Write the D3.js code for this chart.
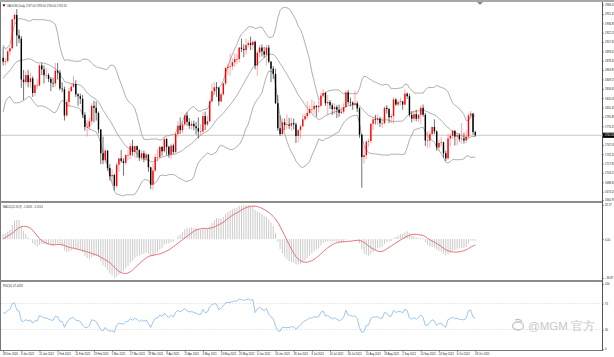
<!DOCTYPE html>
<html>
<head>
<meta charset="utf-8">
<script src="https://cdn.jsdelivr.net/npm/d3@7"></script>
<style>
  html, body { margin: 0; padding: 0; background: #fff; }
  svg { display: block; }
  text { font-family: "Liberation Sans", Arial, sans-serif; }
</style>
</head>
<body>
<svg id="chart" width="614" height="357"></svg>
<script>
// closes before the first visible bar (Oct - Dec 2020), only used to warm up the indicators
const warmupCloses = [1906, 1899, 1913, 1877, 1887, 1893, 1930, 1922, 1891, 1902, 1908, 1899, 1904, 1907, 1924,
  1904, 1902, 1902, 1908, 1878, 1868, 1879, 1895, 1908, 1903, 1949, 1951, 1862, 1877, 1866, 1873, 1889, 1888,
  1879, 1871, 1866, 1871, 1837, 1807, 1811, 1811, 1788, 1776, 1815, 1830, 1841, 1839, 1863, 1871, 1838, 1836,
  1839, 1827, 1854, 1864, 1886, 1881, 1872, 1859, 1871, 1876];

// daily bars [open, high, low, close]
const dec2020 = [[1883,1900,1871,1877],[1877,1883,1871,1878],[1878,1896,1875,1893],[1893,1900,1887,1898]];
const jan2021 = [[1898,1944,1896,1943],[1943,1952,1936,1950],[1950,1959,1901,1918],[1918,1927,1906,1913],
  [1913,1917,1836,1849],[1849,1864,1817,1845],[1845,1862,1840,1856],[1856,1864,1837,1845],[1845,1860,1836,1851],
  [1851,1854,1822,1828],[1828,1843,1823,1840],[1840,1850,1834,1840],[1840,1873,1838,1871],[1871,1875,1856,1865],
  [1865,1871,1843,1856],[1856,1867,1850,1856],[1856,1859,1845,1850],[1850,1853,1831,1844],[1844,1852,1837,1843],
  [1843,1875,1838,1863]];
const feb2021 = [[1863,1875,1849,1860],[1860,1864,1832,1835],[1835,1845,1829,1834],[1834,1838,1785,1793],
  [1793,1818,1791,1814],[1814,1836,1807,1831],[1831,1843,1829,1838],[1838,1855,1836,1842],[1842,1848,1822,1826],
  [1826,1828,1808,1823],[1823,1827,1811,1819],[1819,1825,1789,1794],[1794,1798,1769,1775],[1775,1786,1760,1775],
  [1775,1790,1770,1784],[1784,1812,1778,1808],[1808,1816,1782,1805],[1805,1815,1785,1797],[1797,1799,1765,1771],
  [1771,1772,1717,1734]];
const mar2021 = [[1734,1760,1717,1723],[1723,1741,1718,1738],[1738,1739,1707,1711],[1711,1717,1691,1698],
  [1698,1709,1687,1700],[1700,1702,1676,1683],[1683,1719,1680,1716],[1716,1726,1705,1726],[1726,1739,1719,1722],
  [1722,1726,1699,1719],[1719,1733,1716,1731],[1731,1740,1723,1731],[1731,1750,1725,1745],[1745,1755,1730,1736],
  [1736,1746,1727,1745],[1745,1746,1727,1739],[1739,1740,1722,1727],[1727,1739,1723,1734],[1734,1738,1720,1726],
  [1726,1735,1722,1732],[1732,1732,1705,1712],[1712,1713,1678,1685],[1685,1718,1677,1707]];
const apr2021 = [[1707,1733,1705,1728],[1728,1740,1721,1728],[1728,1746,1726,1744],[1744,1745,1730,1737],
  [1737,1759,1735,1756],[1756,1758,1731,1744],[1744,1746,1727,1732],[1732,1749,1725,1746],[1746,1749,1733,1736],
  [1736,1766,1734,1764],[1764,1784,1759,1777],[1777,1790,1764,1770],[1770,1784,1765,1779],[1779,1795,1776,1793],
  [1793,1798,1777,1783],[1783,1789,1772,1777],[1777,1785,1771,1780],[1780,1785,1770,1776],[1776,1783,1763,1773],
  [1773,1790,1757,1768],[1768,1779,1762,1768]];
const may2021 = [[1768,1798,1766,1792],[1792,1799,1770,1779],[1779,1793,1776,1784],[1784,1818,1782,1815],
  [1815,1843,1813,1831],[1831,1845,1825,1837],[1837,1845,1822,1836],[1836,1838,1808,1815],[1815,1829,1813,1826],
  [1826,1845,1824,1843],[1843,1869,1840,1867],[1867,1874,1856,1869],[1869,1890,1855,1870],[1870,1882,1864,1876],
  [1876,1890,1869,1881],[1881,1889,1873,1881],[1881,1900,1876,1899],[1899,1913,1892,1897],[1897,1904,1884,1895],
  [1895,1913,1888,1903],[1903,1910,1899,1906]];
const jun2021 = [[1906,1916,1895,1903],[1903,1910,1896,1908],[1908,1910,1865,1871],[1871,1895,1855,1891],
  [1891,1903,1884,1899],[1899,1904,1885,1893],[1893,1900,1883,1888],[1888,1903,1871,1899],[1899,1903,1875,1877],
  [1877,1878,1845,1866],[1866,1870,1850,1858],[1858,1866,1811,1812],[1812,1825,1769,1773],[1773,1793,1761,1764],
  [1764,1789,1762,1782],[1782,1788,1770,1778],[1778,1795,1772,1779],[1779,1789,1772,1777],[1777,1790,1769,1781],
  [1781,1788,1771,1779],[1779,1782,1750,1761],[1761,1772,1751,1770]];
const jul2021 = [[1770,1779,1757,1776],[1776,1795,1775,1787],[1787,1795,1785,1792],[1792,1815,1788,1797],
  [1797,1809,1794,1803],[1803,1818,1797,1803],[1803,1815,1795,1808],[1808,1809,1791,1806],[1806,1816,1798,1808],
  [1808,1829,1806,1824],[1824,1834,1821,1828],[1828,1830,1808,1812],[1812,1825,1794,1814],[1814,1817,1803,1809],
  [1809,1812,1794,1803],[1803,1812,1795,1806],[1806,1809,1789,1802],[1802,1810,1791,1797],[1797,1807,1795,1799],
  [1799,1812,1795,1806],[1806,1832,1805,1829],[1829,1833,1810,1814]];
const aug2021 = [[1814,1821,1807,1813],[1813,1815,1802,1810],[1810,1832,1808,1812],[1812,1815,1798,1804],
  [1804,1806,1758,1763],[1763,1764,1680,1728],[1728,1745,1718,1731],[1731,1755,1725,1752],[1752,1757,1744,1753],
  [1753,1781,1750,1780],[1780,1789,1770,1787],[1787,1794,1779,1786],[1786,1795,1778,1788],[1788,1791,1775,1781],
  [1781,1790,1773,1781],[1781,1807,1779,1805],[1805,1809,1796,1803],[1803,1805,1781,1790],[1790,1796,1781,1792],
  [1792,1822,1780,1818],[1818,1820,1808,1810],[1810,1817,1807,1814]];
const sep2021 = [[1814,1821,1808,1815],[1815,1816,1802,1810],[1810,1834,1809,1827],[1827,1829,1819,1823],
  [1823,1827,1791,1794],[1794,1800,1782,1788],[1788,1800,1784,1795],[1795,1802,1784,1788],[1788,1795,1783,1794],
  [1794,1809,1780,1805],[1805,1810,1791,1794],[1794,1797,1745,1754],[1754,1769,1742,1754],[1754,1768,1743,1764],
  [1764,1776,1762,1775],[1775,1787,1764,1768],[1768,1770,1738,1743],[1743,1755,1738,1750],[1750,1759,1745,1751],
  [1751,1752,1727,1734],[1734,1738,1722,1726],[1726,1764,1723,1757]];
const oct2021 = [[1757,1765,1745,1761],[1761,1770,1756,1769],[1769,1770,1746,1760],[1760,1765,1746,1762],
  [1762,1765,1752,1756],[1756,1781,1749,1757],[1757,1766,1749,1754],[1754,1770,1750,1760],[1760,1796,1758,1793],
  [1793,1800,1787,1796],[1796,1797,1763,1767],[1767,1769,1760,1762.05]];

// date labels: [bar index, text]
const dateTicks = [[0,"28 Dec 2020"],[8,"8 Jan 2021"],[16,"20 Jan 2021"],[24,"1 Feb 2021"],[32,"11 Feb 2021"],
  [40,"23 Feb 2021"],[48,"5 Mar 2021"],[56,"17 Mar 2021"],[64,"29 Mar 2021"],[72,"9 Apr 2021"],[80,"21 Apr 2021"],
  [88,"3 May 2021"],[96,"13 May 2021"],[104,"25 May 2021"],[112,"4 Jun 2021"],[120,"16 Jun 2021"],[128,"28 Jun 2021"],
  [136,"8 Jul 2021"],[144,"20 Jul 2021"],[152,"30 Jul 2021"],[160,"11 Aug 2021"],[168,"23 Aug 2021"],[176,"2 Sep 2021"],
  [184,"14 Sep 2021"],[192,"24 Sep 2021"],[200,"6 Oct 2021"],[208,"18 Oct 2021"]];

const priceTicks = [1966.05, 1951.45, 1936.85, 1922.25, 1907.65, 1893.05, 1878.45, 1863.85, 1849.25, 1834.65,
  1820.05, 1805.45, 1790.85, 1776.25, 1761.65, 1747.05, 1732.45, 1717.85, 1703.25, 1688.65, 1674.05, 1660.95];
const rsiLevels = [30, 70];

const bars = [].concat(dec2020, jan2021, feb2021, mar2021, apr2021, may2021, jun2021, jul2021, aug2021, sep2021, oct2021);
const N = bars.length;
const closes = bars.map(d => d[3]);
const allCloses = warmupCloses.concat(closes);
const off = warmupCloses.length;

// ---- indicators
function bollinger(src, n, dev) {
    return src.map((v, i) => {
        if (i < n - 1) return null;
        const win = src.slice(i - n + 1, i + 1);
        const m = d3.mean(win);
        const sd = Math.sqrt(d3.mean(win, w => (w - m) * (w - m)));
        return { mid: m, up: m + dev * sd, lo: m - dev * sd };
    });
}
function ema(src, n) {
    const k = 2 / (n + 1), out = [];
    src.forEach((v, i) => out.push(i ? out[i - 1] + k * (v - out[i - 1]) : v));
    return out;
}
function rsiCalc(src, n) {
    const out = src.map(() => null);
    let g = 0, l = 0;
    for (let i = 1; i <= n; i++) { const d = src[i] - src[i - 1]; if (d > 0) g += d; else l -= d; }
    g /= n; l /= n;
    out[n] = 100 - 100 / (1 + g / l);
    for (let i = n + 1; i < src.length; i++) {
        const d = src[i] - src[i - 1];
        g = (g * (n - 1) + Math.max(d, 0)) / n;
        l = (l * (n - 1) + Math.max(-d, 0)) / n;
        out[i] = l === 0 ? 100 : 100 - 100 / (1 + g / l);
    }
    return out;
}

const bb = bollinger(allCloses, 20, 2).slice(off);
const e12 = ema(allCloses, 12), e26 = ema(allCloses, 26);
const macdAll = allCloses.map((v, i) => e12[i] - e26[i]);
const sigAll = macdAll.map((v, i) => i < 8 ? v : d3.mean(macdAll.slice(i - 8, i + 1)));
const macd = macdAll.slice(off), signal = sigAll.slice(off);
const rsi = rsiCalc(allCloses, 14).slice(off);

// ---- layout
const W = 614, H = 357;
const axisX = 602.5;
const mainP = { top: 3, bottom: 201 };
const macdP = { top: 205, bottom: 278 };
const rsiP = { top: 284, bottom: 349 };
const fs = 2.7; // tiny label size, like the shrunk screenshot

const svg = d3.select("#chart");

const x = d3.scaleBand().domain(d3.range(N)).range([2, 2 + N * 2.27]).paddingInner(0.38).paddingOuter(0.2);
const bw = x.bandwidth();
const cx = i => x(i) + bw / 2;

const y = d3.scaleLinear().domain([1659.4, 1968.6]).range([mainP.bottom, mainP.top]);
const macdExt = d3.extent(macd.concat(signal));
const yM = d3.scaleLinear().domain(macdExt).range([macdP.bottom, macdP.top]);
const yR = d3.scaleLinear().domain([0, 100]).range([rsiP.bottom, rsiP.top]);

// frame
svg.append("rect").attr("x", 0).attr("y", 0).attr("width", W).attr("height", 2).attr("fill", "#a8a8a8");
svg.append("line").attr("x1", 0.5).attr("x2", 0.5).attr("y1", 2).attr("y2", 350).attr("stroke", "#777");
[202, 281].forEach(yy => {
    svg.append("rect").attr("x", 0).attr("y", yy - 1).attr("width", axisX).attr("height", 2).attr("fill", "#8c8c8c");
});
svg.append("line").attr("x1", 0).attr("x2", axisX).attr("y1", 350.5).attr("y2", 350.5).attr("stroke", "#777");
svg.append("line").attr("x1", axisX).attr("x2", axisX).attr("y1", 2).attr("y2", 351).attr("stroke", "#555");
// chart shift marker
svg.append("path").attr("d", "M477,2 L483,2 L480,5 Z").attr("fill", "#888");

// ---- main panel
const main = svg.append("g");
const last = bars[N - 1];

main.append("line").attr("x1", 1).attr("x2", axisX).attr("y1", y(last[3])).attr("y2", y(last[3]))
    .attr("stroke", "#c8c8c8").attr("stroke-width", 1);

const bbLine = key => d3.line().x((d, i) => cx(i)).y(d => y(d[key]));
["up", "mid", "lo"].forEach(k => {
    main.append("path").datum(bb).attr("d", bbLine(k)).attr("fill", "none")
        .attr("stroke", "#9a9a9a").attr("stroke-width", 0.8);
});

const candle = main.selectAll("g.candle").data(bars).join("g").attr("class", "candle");
candle.append("line")
    .attr("x1", (d, i) => cx(i)).attr("x2", (d, i) => cx(i))
    .attr("y1", d => y(d[1])).attr("y2", d => y(d[2]))
    .attr("stroke", d => d[3] >= d[0] ? "#ff3030" : "#000").attr("stroke-width", 0.7)
    .attr("stroke-opacity", d => d[3] >= d[0] ? 0.6 : 0.8);
candle.append("rect")
    .attr("x", (d, i) => x(i)).attr("width", bw)
    .attr("y", d => y(Math.max(d[0], d[3])))
    .attr("height", d => Math.max(0.6, Math.abs(y(d[0]) - y(d[3]))))
    .attr("fill", d => d[3] >= d[0] ? "#ff0000" : "#000");

// price axis
const pAxis = svg.append("g").attr("transform", `translate(${axisX},0)`)
    .call(d3.axisRight(y).tickValues(priceTicks).tickFormat(d3.format(".2f")).tickSize(1.5).tickPadding(1));
pAxis.select(".domain").remove();

// ---- MACD panel
const mg = svg.append("g");
mg.selectAll("line.hist").data(macd).join("line").attr("class", "hist")
    .attr("x1", (d, i) => cx(i)).attr("x2", (d, i) => cx(i))
    .attr("y1", yM(0)).attr("y2", d => yM(d))
    .attr("stroke", "#c4c4c4").attr("stroke-width", 0.9);
mg.append("path").datum(signal)
    .attr("d", d3.line().x((d, i) => cx(i)).y(d => yM(d)))
    .attr("fill", "none").attr("stroke", "#e8646c").attr("stroke-width", 0.9);

const mAxis = svg.append("g").attr("transform", `translate(${axisX},0)`)
    .call(d3.axisRight(yM).tickValues([macdExt[1], 0, macdExt[0]]).tickFormat(d3.format(".2f")).tickSize(1.5).tickPadding(1));
mAxis.select(".domain").remove();

// ---- RSI panel
const rg = svg.append("g");
rg.selectAll("line.level").data(rsiLevels).join("line").attr("class", "level")
    .attr("x1", 1).attr("x2", axisX).attr("y1", d => yR(d)).attr("y2", d => yR(d))
    .attr("stroke", "#d6d6d6").attr("stroke-dasharray", "1.5,1.5").attr("stroke-width", 0.7);
rg.append("path").datum(rsi)
    .attr("d", d3.line().x((d, i) => cx(i)).y(d => yR(d)))
    .attr("fill", "none").attr("stroke", "#8fc0f2").attr("stroke-width", 0.9);

const rAxis = svg.append("g").attr("transform", `translate(${axisX},0)`)
    .call(d3.axisRight(yR).tickValues([100, 70, 30, 0]).tickFormat(d3.format("d")).tickSize(1.5).tickPadding(1));
rAxis.select(".domain").remove();

// ---- date axis
const dAxis = svg.append("g").attr("transform", "translate(0,350.5)")
    .call(d3.axisBottom(d3.scaleLinear().domain([0, N - 1]).range([cx(0), cx(N - 1)]))
        .tickValues(dateTicks.map(d => d[0]))
        .tickFormat(i => dateTicks.find(d => d[0] === i)[1])
        .tickSize(1.5).tickPadding(0.8));
dAxis.select(".domain").remove();
dAxis.selectAll("text").attr("text-anchor", "start").attr("dx", "-0.3em");

svg.selectAll(".tick text").attr("font-size", fs).attr("fill", "#222")
    .attr("font-family", "'Liberation Sans', Arial, sans-serif");
svg.selectAll(".tick line").attr("stroke", "#333").attr("stroke-width", 0.5);

// current price marker (drawn over the regular tick there)
const cp = svg.append("g").attr("transform", `translate(${axisX},${y(last[3])})`);
cp.append("rect").attr("x", 0.5).attr("y", -2.6).attr("width", 11.5).attr("height", 5.2).attr("fill", "#000");
cp.append("text").attr("x", 2).attr("y", 1).attr("font-size", fs).attr("fill", "#fff").text(d3.format(".2f")(last[3]));

// ---- panel captions
const f2 = d3.format(".2f"), f4 = d3.format(".4f");
svg.append("path").attr("d", "M2.5,4.5 L5.5,4.5 L4,6.8 Z").attr("fill", "#000");
svg.append("text").attr("x", 7).attr("y", 6.8).attr("font-size", fs).attr("fill", "#333")
    .text(`XAUUSD,Daily  ${f2(last[0])} ${f2(last[1])} ${f2(last[2])} ${f2(last[3])}`);
svg.append("text").attr("x", 3).attr("y", 207.5).attr("font-size", fs).attr("fill", "#333")
    .text(`MACD(12,26,9) ${f4(macd[N - 1])} ${f4(signal[N - 1])}`);
svg.append("text").attr("x", 3).attr("y", 286.5).attr("font-size", fs).attr("fill", "#333")
    .text(`RSI(14) ${f4(rsi[N - 1])}`);

// ---- watermark
const wm = svg.append("g").attr("transform", "translate(512,330)").attr("opacity", 0.9);
wm.append("ellipse").attr("cx", 6).attr("cy", -4).attr("rx", 5.5).attr("ry", 4)
    .attr("fill", "none").attr("stroke", "#bdbdbd").attr("stroke-width", 1.3);
wm.append("path").attr("d", "M3,-10 Q8,-12 10,-8").attr("fill", "none").attr("stroke", "#bdbdbd").attr("stroke-width", 1.2);
wm.append("text").attr("x", 16).attr("y", 0).attr("font-size", 11.5).attr("fill", "#c4c4c4")
    .attr("font-family", "'Noto Sans CJK SC', 'Noto Sans', sans-serif").text("@MGM 官方");
</script>
</body>
</html>
